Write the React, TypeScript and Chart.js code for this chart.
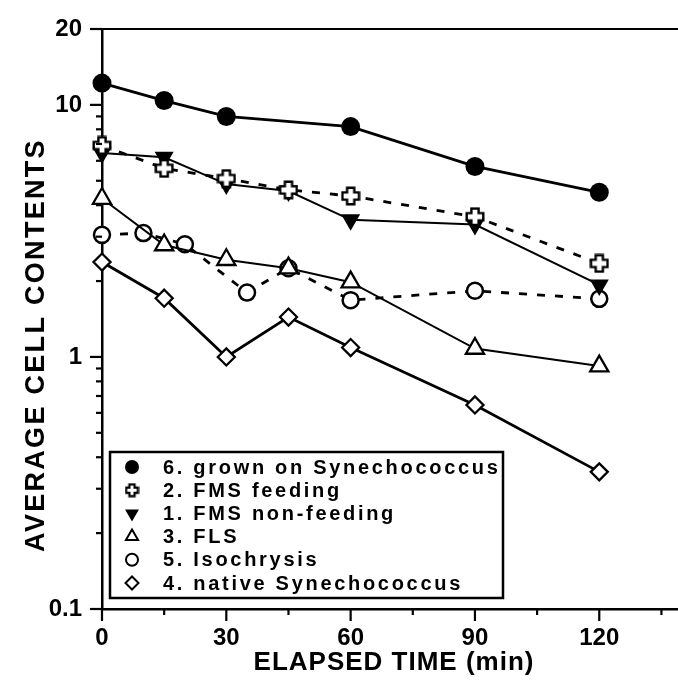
import React, { useEffect, useRef } from "react";
import { Chart, registerables } from "chart.js";
import { drawPoint } from "chart.js/helpers";

Chart.register(...registerables);

// ---- data ----
const timesStd = [0, 15, 30, 45, 60, 90, 120];
const grownTimes = [0, 15, 30, 60, 90, 120];
const grownVals = [12.2, 10.4, 9.0, 8.2, 5.7, 4.5];
const feedingVals = [6.9, 5.6, 5.1, 4.6, 4.35, 3.6, 2.35];
const nonFeedingVals = [6.45, 6.2, 4.85, 4.55, 3.5, 3.35, 1.93];
const flsVals = [4.25, 2.78, 2.43, 2.25, 1.98, 1.08, 0.92];
const isoTimes = [0, 10, 20, 35, 45, 60, 90, 120];
const isoVals = [3.05, 3.1, 2.8, 1.8, 2.25, 1.68, 1.83, 1.7];
const nativeVals = [2.38, 1.71, 1.0, 1.44, 1.09, 0.645, 0.35];

const seriesLabels = [
  "6. grown on Synechococcus",
  "2. FMS feeding",
  "1. FMS non-feeding",
  "3. FLS",
  "5. Isochrysis",
  "4. native Synechococcus",
];

const X_MAX = 139;
const xLabelTicks = [0, 30, 60, 90, 120];
const xMinorTicks = [15, 45, 75, 105, 135];
const yLabelTicks = [0.1, 1, 10, 20];
const yMinorTicks = [0.2, 0.3, 0.4, 0.5, 0.6, 0.7, 0.8, 0.9, 2, 3, 4, 5, 6, 7, 8, 9];
const xTitle = "ELAPSED TIME (min)";
const yTitle = "AVERAGE CELL CONTENTS";

const FONT = "'Liberation Sans', Arial, sans-serif";

function pts(xs: number[], ys: number[]) {
  return xs.map((x, i) => ({ x, y: ys[i] }));
}

function makeCross(size: number, lw: number, half: number): HTMLCanvasElement {
  const c = document.createElement("canvas");
  c.width = size;
  c.height = size;
  const g = c.getContext("2d")!;
  const s = size;
  const m = lw / 2 + 0.5;
  const a = half;
  const cx = s / 2;
  g.beginPath();
  g.moveTo(cx - a, m);
  g.lineTo(cx + a, m);
  g.lineTo(cx + a, cx - a);
  g.lineTo(s - m, cx - a);
  g.lineTo(s - m, cx + a);
  g.lineTo(cx + a, cx + a);
  g.lineTo(cx + a, s - m);
  g.lineTo(cx - a, s - m);
  g.lineTo(cx - a, cx + a);
  g.lineTo(m, cx + a);
  g.lineTo(m, cx - a);
  g.lineTo(cx - a, cx - a);
  g.closePath();
  g.fillStyle = "#fff";
  g.fill();
  g.lineWidth = lw;
  g.strokeStyle = "#000";
  g.lineJoin = "miter";
  g.stroke();
  return c;
}

export default function App() {
  const ref = useRef<HTMLCanvasElement | null>(null);

  useEffect(() => {
    const canvas = ref.current!;
    const crossBig = makeCross(20, 2.4, 3.6);
    const crossSmall = makeCross(15, 2.2, 2.6);

    const markerDefs = [
      { style: "circle", radius: 9.5, fill: "#000", bw: 0, rot: 0, legendStyle: "circle" as any, legendRadius: 7 },
      { style: crossBig, radius: 10, fill: "#fff", bw: 0, rot: 0, legendStyle: crossSmall as any, legendRadius: 7 },
      { style: "triangle", radius: 11, fill: "#000", bw: 0, rot: 180, legendStyle: "triangle" as any, legendRadius: 8 },
      { style: "triangle", radius: 10.5, fill: "#fff", bw: 2.3, rot: 0, legendStyle: "triangle" as any, legendRadius: 7 },
      { style: "circle", radius: 8, fill: "#fff", bw: 2.5, rot: 0, legendStyle: "circle" as any, legendRadius: 6 },
      { style: "rectRot", radius: 8.5, fill: "#fff", bw: 2.3, rot: 0, legendStyle: "rectRot" as any, legendRadius: 6.5 },
    ];

    const dataSets = [
      { data: pts(grownTimes, grownVals), lw: 2.8, dash: [] as number[] },
      { data: pts(timesStd, feedingVals), lw: 2.8, dash: [8, 10] },
      { data: pts(timesStd, nonFeedingVals), lw: 2, dash: [] as number[] },
      { data: pts(timesStd, flsVals), lw: 2, dash: [] as number[] },
      { data: pts(isoTimes, isoVals), lw: 2.8, dash: [8, 10] },
      { data: pts(timesStd, nativeVals), lw: 2.8, dash: [] as number[] },
    ];

    const datasets = dataSets.map((d, i) => ({
      label: seriesLabels[i],
      data: d.data,
      borderColor: "#000",
      borderWidth: d.lw,
      borderDash: d.dash,
      tension: 0,
      pointStyle: markerDefs[i].style as any,
      pointRadius: markerDefs[i].radius,
      pointRotation: markerDefs[i].rot,
      pointBackgroundColor: markerDefs[i].fill,
      pointBorderColor: "#000",
      pointBorderWidth: markerDefs[i].bw,
      clip: false as any,
    }));

    const decor = {
      id: "decor",
      afterDraw(chart: any) {
        const ctx = chart.ctx as CanvasRenderingContext2D;
        const xs = chart.scales.x;
        const ys = chart.scales.y;
        const { left, top, bottom } = chart.chartArea;
        ctx.save();
        ctx.strokeStyle = "#000";
        ctx.lineWidth = 2.2;
        // top frame line
        ctx.beginPath();
        ctx.moveTo(left - 12, top);
        ctx.lineTo(chart.width, top);
        ctx.stroke();
        // y ticks
        for (const v of yLabelTicks) {
          const p = ys.getPixelForValue(v);
          ctx.beginPath();
          ctx.moveTo(left - 12, p);
          ctx.lineTo(left, p);
          ctx.stroke();
        }
        for (const v of yMinorTicks) {
          const p = ys.getPixelForValue(v);
          ctx.beginPath();
          ctx.moveTo(left - 6, p);
          ctx.lineTo(left, p);
          ctx.stroke();
        }
        for (const v of xLabelTicks) {
          const p = xs.getPixelForValue(v);
          ctx.beginPath();
          ctx.moveTo(p, bottom);
          ctx.lineTo(p, bottom + 12);
          ctx.stroke();
        }
        for (const v of xMinorTicks) {
          const p = xs.getPixelForValue(v);
          ctx.beginPath();
          ctx.moveTo(p, bottom);
          ctx.lineTo(p, bottom + 6);
          ctx.stroke();
        }
        // axis titles
        ctx.fillStyle = "#000";
        ctx.font = `bold 26px ${FONT}`;
        (ctx as any).letterSpacing = "1px";
        ctx.textAlign = "center";
        ctx.textBaseline = "middle";
        ctx.fillText(xTitle, 394, 663);
        ctx.save();
        ctx.translate(37, 345);
        ctx.rotate(-Math.PI / 2);
        ctx.font = `bold 27px ${FONT}`;
        (ctx as any).letterSpacing = "2.3px";
        ctx.fillText(yTitle, 0, 0);
        ctx.restore();

        // legend
        const bx = left + 8;
        const by = 452;
        const bw = 393;
        const bh = 146;
        ctx.fillStyle = "#fff";
        ctx.fillRect(bx, by, bw, bh);
        ctx.lineWidth = 2.5;
        ctx.strokeRect(bx, by, bw, bh);
        ctx.font = `bold 20px ${FONT}`;
        (ctx as any).letterSpacing = "2.7px";
        ctx.textAlign = "left";
        ctx.textBaseline = "middle";
        for (let i = 0; i < seriesLabels.length; i++) {
          const ry = by + 15 + i * 23.2;
          const md = markerDefs[i];
          ctx.fillStyle = md.fill;
          ctx.strokeStyle = "#000";
          ctx.lineWidth = md.bw > 0 ? 2 : 0;
          drawPoint(ctx, {
            pointStyle: md.legendStyle,
            rotation: md.rot,
            radius: md.legendRadius,
            borderWidth: md.bw > 0 ? 2 : 0,
          } as any, bx + 22, ry);
          ctx.fillStyle = "#000";
          ctx.fillText(seriesLabels[i], bx + 53, ry + 1);
        }
        (ctx as any).letterSpacing = "0px";
        ctx.restore();
      },
    };

    const chart = new Chart(canvas, {
      type: "line",
      data: { datasets: datasets as any },
      options: {
        animation: false,
        responsive: false,
        devicePixelRatio: 1,
        layout: { autoPadding: false, padding: { top: 29, right: 0, left: 0, bottom: 0 } },
        plugins: { legend: { display: false }, tooltip: { enabled: false } },
        scales: {
          x: {
            type: "linear",
            min: 0,
            max: X_MAX,
            afterBuildTicks: (s: any) => {
              s.ticks = xLabelTicks.map((v) => ({ value: v }));
            },
            afterFit: (s: any) => {
              s.height = 75;
              s.paddingLeft = 0;
              s.paddingRight = 0;
            },
            grid: { display: false, drawTicks: false },
            border: { display: true, color: "#000", width: 2.5 },
            ticks: {
              color: "#000",
              padding: 15,
              maxRotation: 0,
              autoSkip: false,
              font: { family: FONT, size: 24, weight: "bold" },
              callback: (v: any) => String(v),
            },
          },
          y: {
            type: "logarithmic",
            min: 0.1,
            max: 20,
            afterBuildTicks: (s: any) => {
              s.ticks = yLabelTicks.map((v) => ({ value: v }));
            },
            afterFit: (s: any) => {
              s.width = 102;
              s.paddingTop = 0;
              s.paddingBottom = 0;
            },
            grid: { display: false, drawTicks: false },
            border: { display: true, color: "#000", width: 2.5 },
            ticks: {
              color: "#000",
              padding: 20,
              autoSkip: false,
              font: { family: FONT, size: 24, weight: "bold" },
              callback: (v: any) => String(v),
            },
          },
        },
      },
      plugins: [decor],
    });
    return () => chart.destroy();
  }, []);

  return (
    <div style={{ position: "fixed", left: 0, top: 0, width: 678, height: 684, background: "#fff" }}>
      <canvas ref={ref} width={678} height={684} />
    </div>
  );
}
